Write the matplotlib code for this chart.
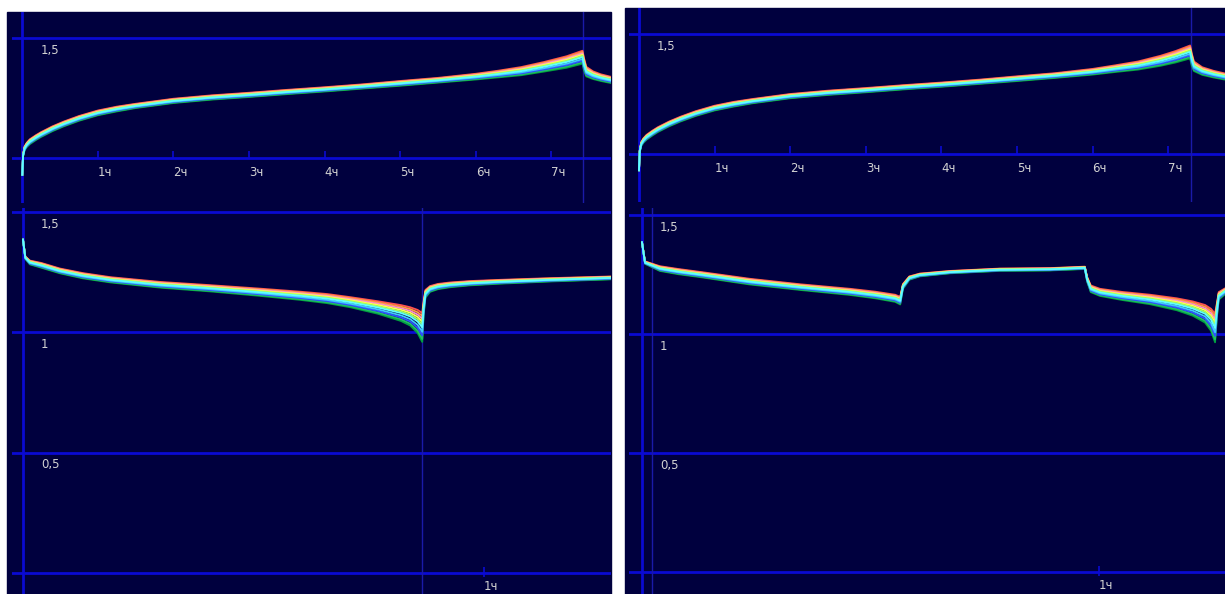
import matplotlib.pyplot as plt
from matplotlib.patches import Rectangle
import numpy as np

# ---- data ----
# left panel, charge (hours, volts)
t_charge_l = [0, 0.01, 0.03, 0.06, 0.1, 0.18, 0.25, 0.4, 0.55, 0.75, 1.0, 1.25, 1.5, 2.0,
              2.5, 3.0, 3.5, 4.0, 4.5, 5.0, 5.5, 6.0, 6.3, 6.6, 6.9, 7.2, 7.41, 7.43, 7.46,
              7.55, 7.65, 7.79]
v_charge_l = [0.93, 1.01, 1.04, 1.055, 1.068, 1.085, 1.098, 1.122, 1.142, 1.165, 1.188,
              1.204, 1.217, 1.238, 1.252, 1.263, 1.275, 1.286, 1.298, 1.311, 1.324, 1.339,
              1.35, 1.362, 1.38, 1.40, 1.42, 1.39, 1.36, 1.345, 1.335, 1.325]
w_charge_l = [0.0, 0.004, 0.008, 0.009, 0.01, 0.01, 0.01, 0.01, 0.01, 0.01, 0.01, 0.01,
              0.009, 0.009, 0.009, 0.009, 0.009, 0.009, 0.009, 0.01, 0.01, 0.012, 0.014,
              0.017, 0.02, 0.024, 0.027, 0.026, 0.02, 0.016, 0.014, 0.013]

# left panel, discharge
t_dis_l = [0, 0.005, 0.015, 0.04, 0.08, 0.13, 0.19, 0.3, 0.405, 0.51, 0.6, 0.66, 0.71,
           0.77, 0.82, 0.84, 0.856, 0.866, 0.869, 0.873, 0.883, 0.9, 0.926, 0.97, 1.035,
           1.143, 1.276]
v_dis_l = [1.385, 1.31, 1.29, 1.278, 1.255, 1.235, 1.218, 1.197, 1.183, 1.167, 1.152,
           1.14, 1.125, 1.103, 1.08, 1.066, 1.045, 1.02, 1.10, 1.16, 1.18, 1.19, 1.197,
           1.204, 1.21, 1.218, 1.226]
w_dis_l = [0.0, 0.005, 0.008, 0.01, 0.01, 0.011, 0.011, 0.012, 0.013, 0.015, 0.017, 0.019,
           0.021, 0.026, 0.033, 0.038, 0.048, 0.06, 0.03, 0.016, 0.012, 0.011, 0.01, 0.009,
           0.008, 0.007, 0.006]

# right panel, charge
t_charge_r = [0, 0.01, 0.03, 0.06, 0.1, 0.18, 0.25, 0.4, 0.55, 0.75, 1.0, 1.25, 1.5, 2.0,
              2.5, 3.0, 3.5, 4.0, 4.5, 5.0, 5.5, 6.0, 6.3, 6.6, 6.9, 7.1, 7.29, 7.31, 7.34,
              7.45, 7.6, 7.75]
v_charge_r = [0.93, 1.01, 1.04, 1.055, 1.068, 1.086, 1.1, 1.124, 1.144, 1.167, 1.19,
              1.206, 1.219, 1.24, 1.254, 1.265, 1.277, 1.288, 1.3, 1.313, 1.326, 1.342,
              1.355, 1.368, 1.388, 1.405, 1.425, 1.395, 1.365, 1.345, 1.332, 1.322]
w_charge_r = [0.0, 0.004, 0.008, 0.009, 0.01, 0.01, 0.01, 0.01, 0.01, 0.01, 0.01, 0.01,
              0.009, 0.009, 0.009, 0.009, 0.009, 0.009, 0.009, 0.01, 0.01, 0.012, 0.014,
              0.017, 0.021, 0.024, 0.027, 0.026, 0.02, 0.016, 0.014, 0.013]

# right panel, discharge with a rest
t_dis_r = [0, 0.0066, 0.039, 0.08, 0.127, 0.236, 0.346, 0.455, 0.51, 0.554, 0.565, 0.571,
           0.585, 0.608, 0.674, 0.783, 0.893, 0.969, 0.974, 0.982, 1.002, 1.05, 1.112,
           1.17, 1.205, 1.232, 1.245, 1.254, 1.258, 1.262, 1.276]
v_dis_r = [1.385, 1.30, 1.275, 1.262, 1.25, 1.22, 1.197, 1.177, 1.164, 1.15, 1.14, 1.2,
           1.235, 1.248, 1.26, 1.27, 1.272, 1.278, 1.23, 1.19, 1.175, 1.16, 1.145, 1.125,
           1.107, 1.085, 1.06, 1.025, 1.10, 1.16, 1.18]
w_dis_r = [0.0, 0.005, 0.01, 0.011, 0.011, 0.012, 0.012, 0.013, 0.014, 0.015, 0.016, 0.01,
           0.007, 0.006, 0.005, 0.005, 0.005, 0.005, 0.01, 0.014, 0.015, 0.017, 0.02,
           0.025, 0.03, 0.037, 0.046, 0.06, 0.03, 0.016, 0.012]

# position of each cell inside the band (+1 top edge, -1 bottom edge) and its colour
band_pos = [1.0, 0.8, 0.6, 0.4, -1.0, -0.8, 0.2, -0.55, -0.3, 0.0]
cell_colors = ['#ff5050', '#ff9a40', '#ff90d0', '#ffff50', '#00a040', '#20c060',
               '#a0ff60', '#3050ff', '#40c8ff', '#60ffff']

hour_labels_top = ['1ч', '2ч', '3ч', '4ч', '5ч', '6ч', '7ч']
hour_labels_bottom = ['1ч']
volt_ticks_top = [1.5]
volt_ticks_bottom = [1.5, 1.0, 0.5]

# ---- layout ----
W, H = 1225, 594
NAVY = '#00003e'
GRID = '#0a0ad2'
THIN = '#1a1aa8'
TXT = '#d2d2d2'

fig = plt.figure(figsize=(W / 100, H / 100), dpi=100, facecolor='white')


def px_axes(box, x_zero, x_per, y_ref, v_ref, y_per):
    x0, y0, x1, y1 = box
    ax = fig.add_axes([x0 / W, 1 - y1 / H, (x1 - x0) / W, (y1 - y0) / H])
    ax.set_facecolor('none')
    ax.set_xlim((x0 - x_zero) / x_per, (x1 - x_zero) / x_per)
    ax.set_ylim(v_ref - (y1 - y_ref) / y_per, v_ref + (y_ref - y0) / y_per)
    ax.set_xticks([])
    ax.set_yticks([])
    for s in ax.spines.values():
        s.set_visible(False)
    return ax


def fmt(v):
    return ('%g' % v).replace('.', ',')


def draw_band(ax, t, v, w):
    t = np.array(t)
    v = np.array(v)
    w = np.array(w)
    for p, c in zip(band_pos, cell_colors):
        ax.plot(t, v + p * w, color=c, lw=1.3, solid_joinstyle='round', zorder=3)


def panel(x_left, y_top, x_right, top_cal, bot_cal, charge, dis, end_top, end_bot,
          extra_v=None):
    fig.add_artist(Rectangle((x_left / W, 0), (x_right - x_left) / W, 1 - y_top / H,
                             transform=fig.transFigure, color=NAVY, zorder=0))
    # top: charge
    at = px_axes(*top_cal)
    at.axhline(1.0, color=GRID, lw=2, zorder=1)
    for v in volt_ticks_top:
        at.axhline(v, color=GRID, lw=2, zorder=1)
        at.annotate(fmt(v), (0, v), xytext=(13, -4), textcoords='offset points',
                    ha='left', va='top', color=TXT, fontsize=8.5)
    at.axvline(0, color=GRID, lw=2, zorder=1)
    at.axvline(end_top, color=THIN, lw=1, zorder=1)
    for i, lab in enumerate(hour_labels_top):
        h = i + 1
        at.vlines(h, 1.0, 1.03, color=GRID, lw=1.2, zorder=1)
        at.annotate(lab, (h, 1.0), xytext=(0, -6), textcoords='offset points',
                    ha='left', va='top', color=TXT, fontsize=8.5)
    draw_band(at, *charge)

    # bottom: discharge
    ab = px_axes(*bot_cal)
    ab.axhline(0.0, color=GRID, lw=2, zorder=1)
    for v in volt_ticks_bottom:
        ab.axhline(v, color=GRID, lw=2, zorder=1)
        ab.annotate(fmt(v), (0, v), xytext=(13, -4), textcoords='offset points',
                    ha='left', va='top', color=TXT, fontsize=8.5)
    ab.axvline(0, color=GRID, lw=2, zorder=1)
    if end_bot is not None:
        ab.axvline(end_bot, color=THIN, lw=1, zorder=1)
    if extra_v is not None:
        ab.axvline(extra_v, color=THIN, lw=1, zorder=1)
    for i, lab in enumerate(hour_labels_bottom):
        h = i + 1
        ab.vlines(h, -0.015, 0.025, color=GRID, lw=1.2, zorder=1)
        ab.annotate(lab, (h, 0.0), xytext=(0, -5), textcoords='offset points',
                    ha='left', va='top', color=TXT, fontsize=8.5)
    draw_band(ab, *dis)


panel(7, 12, 611,
      ((12, 12, 611, 203), 22.3, 75.6, 158, 1.0, 240),
      ((12, 208, 611, 594), 23, 461, 573, 0.0, 240.7),
      (t_charge_l, v_charge_l, w_charge_l),
      (t_dis_l, v_dis_l, w_dis_l),
      7.417, 0.866)

panel(625, 8, 1225,
      ((629, 8, 1225, 202), 639, 75.6, 153.5, 1.0, 239),
      ((629, 208, 1225, 594), 642, 457, 572, 0.0, 238),
      (t_charge_r, v_charge_r, w_charge_r),
      (t_dis_r, v_dis_r, w_dis_r),
      7.30, None, extra_v=0.022)

fig.savefig('out.png', dpi=100, facecolor='white')
